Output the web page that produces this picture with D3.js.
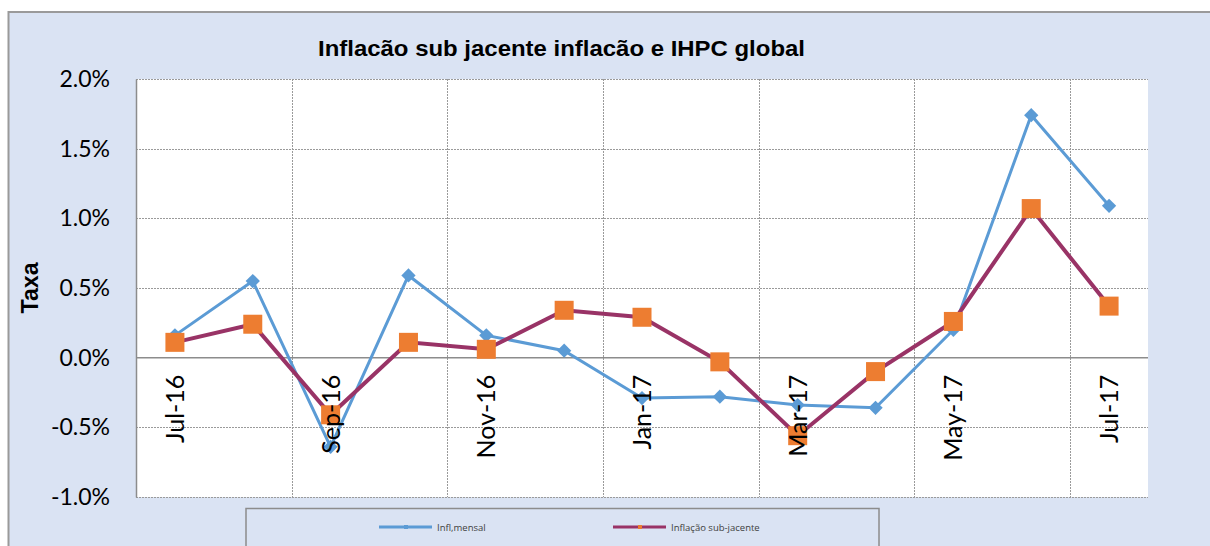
<!DOCTYPE html>
<html>
<head>
<meta charset="utf-8">
<script src="https://cdn.jsdelivr.net/npm/d3@7"></script>
<style>
  body { margin: 0; background: #fff; }
  svg { display: block; }
</style>
</head>
<body>
<div id="chart"></div>
<script>
// data
var months = ["Jul-16","Aug-16","Sep-16","Oct-16","Nov-16","Dec-16","Jan-17","Feb-17","Mar-17","Apr-17","May-17","Jun-17","Jul-17"];
var inflMensal = [0.16, 0.55, -0.64, 0.59, 0.16, 0.05, -0.29, -0.28, -0.34, -0.36, 0.20, 1.74, 1.09];
var inflSubJacente = [0.11, 0.24, -0.41, 0.11, 0.06, 0.34, 0.29, -0.03, -0.56, -0.10, 0.26, 1.07, 0.37];
var yTicks = [-1.0, -0.5, 0.0, 0.5, 1.0, 1.5, 2.0];
var shownLabels = ["Jul-16","Sep-16","Nov-16","Jan-17","Mar-17","May-17","Jul-17"];

var W = 1210, H = 546;
var margin = { top: 79, left: 136, right: W - 1148, bottom: H - 497 };
var width = W - margin.left - margin.right;
var height = H - margin.top - margin.bottom;

var svg = d3.select("#chart").append("svg")
  .attr("width", W)
  .attr("height", H);

// outer frame
svg.append("rect")
  .attr("x", 8.5).attr("y", 12)
  .attr("width", W + 10).attr("height", H + 10)
  .attr("fill", "#dae3f3")
  .attr("stroke", "#9a9a9a")
  .attr("stroke-width", 2);

// title is drawn wide in the original, stretch to fit
svg.append("text")
  .attr("x", 318).attr("y", 56)
  .attr("textLength", 487)
  .attr("lengthAdjust", "spacingAndGlyphs")
  .style("font", "bold 22px 'Liberation Sans', Arial, sans-serif")
  .attr("fill", "#000")
  .text("Inflacão sub jacente inflacão e IHPC global");

var chart = svg.append("g")
  .attr("transform", "translate(" + margin.left + "," + margin.top + ")");

chart.append("rect")
  .attr("width", width).attr("height", height)
  .attr("fill", "#fff");

var xScale = d3.scaleBand().domain(months).range([0, width]);
var yScale = d3.scaleLinear().domain([-1, 2]).range([height, 0]);

// horizontal grid
chart.selectAll(".hgrid")
  .data(yTicks.filter(function(d) { return d !== 0; }))
  .enter().append("line")
  .attr("x1", 0).attr("x2", width)
  .attr("y1", function(d) { return Math.round(yScale(d)) + 0.5; })
  .attr("y2", function(d) { return Math.round(yScale(d)) + 0.5; })
  .attr("stroke", "#9a9a9a")
  .attr("stroke-dasharray", "2,1");

// vertical grid, every two months at the band edge
chart.selectAll(".vgrid")
  .data(months.filter(function(d, i) { return i > 0 && i % 2 === 0; }))
  .enter().append("line")
  .attr("x1", function(d) { return Math.round(xScale(d)) + 0.5; })
  .attr("x2", function(d) { return Math.round(xScale(d)) + 0.5; })
  .attr("y1", 0).attr("y2", height)
  .attr("stroke", "#9a9a9a")
  .attr("stroke-dasharray", "2,1");

// y axis
var yAxis = chart.append("g")
  .call(d3.axisLeft(yScale).tickValues(yTicks).tickSize(0).tickPadding(26)
    .tickFormat(function(d) { return d.toFixed(1) + "%"; }));
yAxis.select(".domain").attr("stroke", "#8c8c8c").attr("stroke-width", 1.5);
yAxis.selectAll("text")
  .style("font", "23px Lato, 'Open Sans', sans-serif")
  .attr("fill", "#000");

// zero line
chart.append("line")
  .attr("x1", 0).attr("x2", width)
  .attr("y1", yScale(0)).attr("y2", yScale(0))
  .attr("stroke", "#8c8c8c").attr("stroke-width", 1.5);

svg.append("text")
  .attr("transform", "translate(38," + (margin.top + height / 2) + ") rotate(-90)")
  .attr("text-anchor", "middle")
  .attr("textLength", 51)
  .attr("lengthAdjust", "spacingAndGlyphs")
  .style("font", "bold 23px 'Liberation Sans', Arial, sans-serif")
  .text("Taxa");

var line = d3.line()
  .x(function(d, i) { return xScale(months[i]) + xScale.bandwidth() / 2; })
  .y(function(d) { return yScale(d); });

chart.append("path")
  .datum(inflMensal)
  .attr("d", line)
  .attr("fill", "none")
  .attr("stroke", "#5b9bd5")
  .attr("stroke-width", 3);

chart.selectAll(".diamond")
  .data(inflMensal)
  .enter().append("path")
  .attr("d", d3.symbol().type(d3.symbolDiamond2).size(130))
  .attr("transform", function(d, i) {
    return "translate(" + (xScale(months[i]) + xScale.bandwidth() / 2) + "," + yScale(d) + ")";
  })
  .attr("fill", "#5b9bd5");

chart.append("path")
  .datum(inflSubJacente)
  .attr("d", line)
  .attr("fill", "none")
  .attr("stroke", "#993366")
  .attr("stroke-width", 4);

chart.selectAll(".square")
  .data(inflSubJacente)
  .enter().append("rect")
  .attr("x", function(d, i) { return xScale(months[i]) + xScale.bandwidth() / 2 - 9.5; })
  .attr("y", function(d) { return yScale(d) - 9.5; })
  .attr("width", 19).attr("height", 19)
  .attr("fill", "#ed7d31");

// x labels sit on top of the series, as in the original
chart.selectAll(".xlab")
  .data(shownLabels)
  .enter().append("text")
  .attr("transform", function(d) {
    return "translate(" + (xScale(d) + xScale.bandwidth() / 2 + 9) + "," + (yScale(0) + 17) + ") rotate(-90)";
  })
  .attr("text-anchor", "end")
  .style("font", "25px Lato, 'Open Sans', sans-serif")
  .attr("fill", "#000")
  .text(function(d) { return d; });

// legend
var legend = svg.append("g");
legend.append("rect")
  .attr("x", 246).attr("y", 508.5)
  .attr("width", 633).attr("height", 50)
  .attr("fill", "none")
  .attr("stroke", "#8c8c8c")
  .attr("stroke-width", 1.5);

var legendItems = [
  { name: "Infl,mensal", color: "#5b9bd5", x: 379, marker: "#5b9bd5" },
  { name: "Inflação sub-jacente", color: "#993366", x: 613, marker: "#ed7d31" }
];
var li = legend.selectAll(".li").data(legendItems).enter().append("g");
li.append("line")
  .attr("x1", function(d) { return d.x; })
  .attr("x2", function(d) { return d.x + 53; })
  .attr("y1", 527).attr("y2", 527)
  .attr("stroke", function(d) { return d.color; })
  .attr("stroke-width", 3);
li.append("rect")
  .attr("x", function(d) { return d.x + 25; })
  .attr("y", 525)
  .attr("width", 4).attr("height", 4)
  .attr("fill", function(d) { return d.marker; });
li.append("text")
  .attr("x", function(d) { return d.x + 58; })
  .attr("y", 530.5)
  .style("font", "9.5px 'Open Sans', sans-serif")
  .attr("fill", "#404040")
  .text(function(d) { return d.name; });
</script>
</body>
</html>
